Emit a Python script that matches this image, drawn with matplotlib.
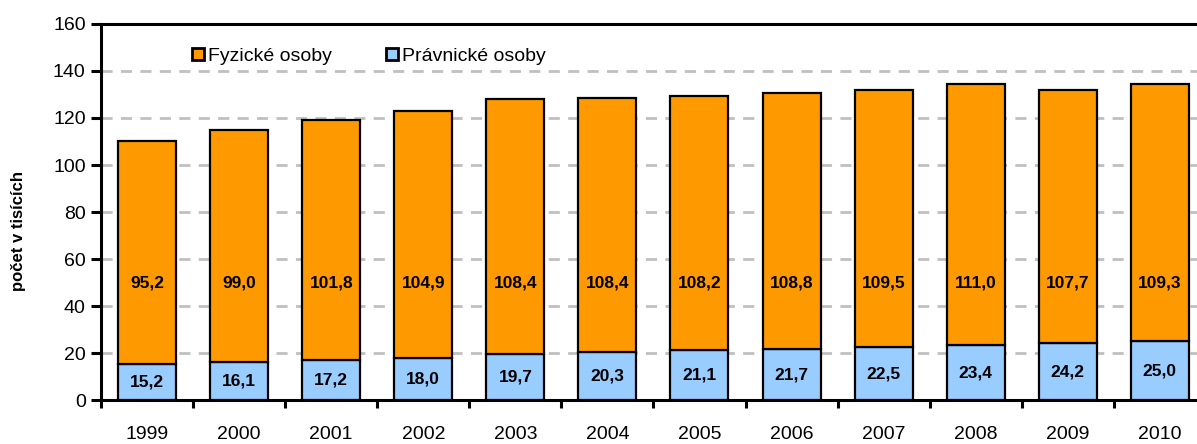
import matplotlib
matplotlib.use("Agg")
import numpy as np
import matplotlib.pyplot as plt
from matplotlib.lines import Line2D

plt.rcParams['font.family'] = ['Liberation Sans', 'DejaVu Sans']

years = ['1999', '2000', '2001', '2002', '2003', '2004',
         '2005', '2006', '2007', '2008', '2009', '2010']
fyzicke = [95.2, 99.0, 101.8, 104.9, 108.4, 108.4, 108.2, 108.8, 109.5, 111.0, 107.7, 109.3]
pravnicke = [15.2, 16.1, 17.2, 18.0, 19.7, 20.3, 21.1, 21.7, 22.5, 23.4, 24.2, 25.0]

c_fyz = '#FF9900'
c_prav = '#99CCFF'

fig = plt.figure(figsize=(11.97, 4.44), dpi=100)
ax = fig.add_axes([0.0844, 0.099, 0.923, 0.847])

x = np.arange(len(years))
w = 0.63
ax.bar(x, pravnicke, w, color=c_prav, edgecolor='black', linewidth=1.6, zorder=3)
ax.bar(x, fyzicke, w, bottom=pravnicke, color=c_fyz, edgecolor='black', linewidth=1.6, zorder=3)

def fmt(v):
    return f'{v:.1f}'.replace('.', ',')

for xi, p, f in zip(x, pravnicke, fyzicke):
    ax.text(xi, p / 2, fmt(p), ha='center', va='center', fontsize=12.5,
            fontweight='bold', zorder=4)
    ax.text(xi, 50, fmt(f), ha='center', va='center', fontsize=12.5,
            fontweight='bold', zorder=4)

ax.set_xlim(-0.5, len(years) - 0.5)
ax.set_ylim(0, 160)
ax.set_yticks(np.arange(0, 161, 20))
ax.set_xticks(x)
ax.set_xticklabels(years)
ax.set_xticks(np.arange(-0.5, len(years), 1), minor=True)
ax.tick_params(axis='x', which='major', length=0, pad=19, labelsize=14)
ax.tick_params(axis='x', which='minor', length=6, width=2.2, direction='out')
ax.tick_params(axis='y', length=7, width=2.2, direction='out', labelsize=14, pad=4)

for yv in range(20, 160, 20):
    ax.axhline(yv, color='#C0C0C0', lw=2, ls=(0, (4, 3)), zorder=1)

for s in ax.spines.values():
    s.set_linewidth(2.2)

ax.set_ylabel('počet v tisících', fontsize=12, fontweight='bold')
ax.yaxis.set_label_coords(-0.068, 0.45)

handles = [
    Line2D([], [], marker='s', ls='none', markersize=9, markerfacecolor=c_fyz,
           markeredgecolor='black', markeredgewidth=2),
    Line2D([], [], marker='s', ls='none', markersize=9, markerfacecolor=c_prav,
           markeredgecolor='black', markeredgewidth=2),
]
ax.legend(handles, ['Fyzické osoby', 'Právnické osoby'], ncol=2, frameon=False,
          loc='upper left', bbox_to_anchor=(0.065, 0.985), fontsize=14,
          handletextpad=0.1, columnspacing=2.7, handlelength=0.8)

plt.savefig('out.png', dpi=100)
